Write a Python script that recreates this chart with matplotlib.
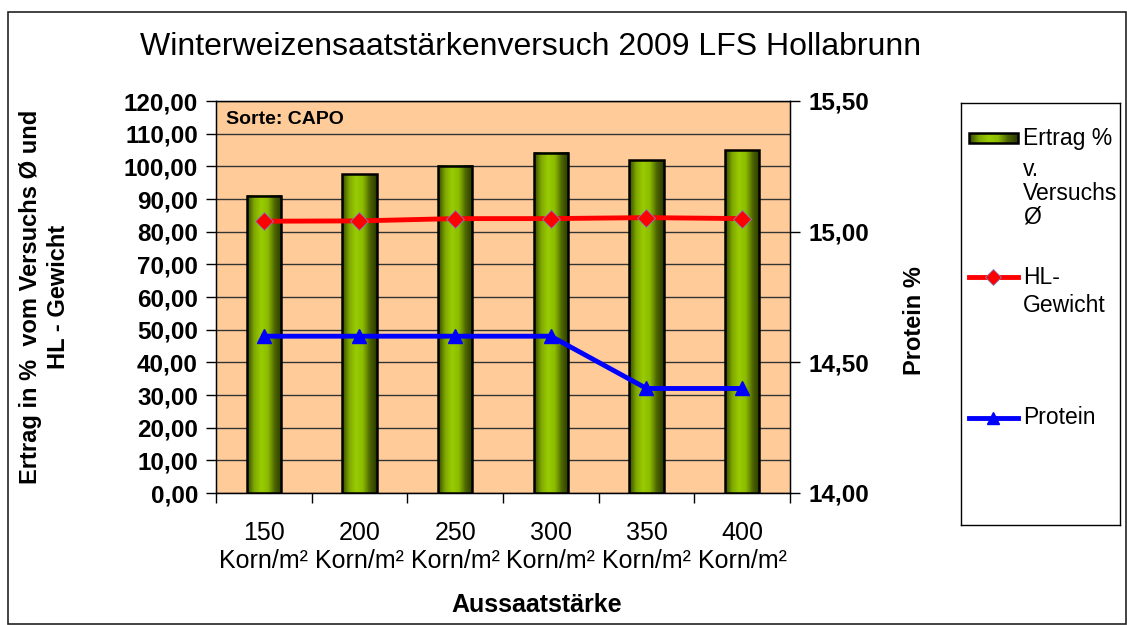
import numpy as np
import matplotlib
matplotlib.use("Agg")
import matplotlib.pyplot as plt
from matplotlib.colors import LinearSegmentedColormap
from matplotlib.patches import Rectangle
from matplotlib.lines import Line2D
from matplotlib.ticker import FuncFormatter, MultipleLocator

plt.rcParams["font.family"] = ["Liberation Sans", "DejaVu Sans"]

categories = ["150\nKorn/m²", "200\nKorn/m²", "250\nKorn/m²", "300\nKorn/m²", "350\nKorn/m²", "400\nKorn/m²"]
ertrag = [91.0, 97.6, 100.2, 104.2, 101.9, 104.9]
hl_gewicht = [83.2, 83.3, 84.0, 84.0, 84.3, 84.0]
protein = [14.6, 14.6, 14.6, 14.6, 14.4, 14.4]

W, H = 1127, 625
fig = plt.figure(figsize=(W / 100, H / 100), dpi=100)
fig.patch.set_facecolor("white")

# outer frame
fig.add_artist(Rectangle((8 / W, 1 - 624 / H), (1126 - 8) / W, (624 - 12) / H,
                         transform=fig.transFigure, fill=False, ec="#222222", lw=1.2))

ax = fig.add_axes([216 / W, 1 - 493 / H, (790 - 216) / W, (493 - 101) / H])
ax.set_facecolor("#FFCC99")
x = np.arange(len(categories))
width = 0.36

# bars with horizontal green gradient
cmap = LinearSegmentedColormap.from_list("olive", ["#344600", "#7fa800", "#99CC00", "#8cbb00", "#4d6600", "#2c3a00"])
grad = np.linspace(0, 1, 64).reshape(1, -1)
bars = ax.bar(x, ertrag, width, facecolor="none", edgecolor="black", lw=1.8, zorder=4)
for b in bars:
    ax.imshow(grad, cmap=cmap, aspect="auto", zorder=3,
              extent=[b.get_x(), b.get_x() + b.get_width(), 0, b.get_height()])

ax.plot(x, hl_gewicht, color="#FF0000", lw=3.5, marker="D", ms=9,
        mfc="#FF0000", mec="#8080c0", mew=0.6, zorder=5)

ax.set_xlim(-0.5, len(categories) - 0.5)
ax.set_ylim(0, 120)
ax.yaxis.set_major_locator(MultipleLocator(10))
ax.yaxis.set_major_formatter(FuncFormatter(lambda v, p: f"{v:.2f}".replace(".", ",")))
ax.grid(axis="y", color="#333333", lw=1.0, zorder=1)
ax.set_axisbelow(True)
ax.set_xticks(x)
ax.set_xticklabels(categories, fontsize=18, linespacing=1.2)
ax.set_xticks(np.arange(-0.5, len(categories), 1), minor=True)
ax.tick_params(axis="x", which="major", length=0, pad=20)
ax.tick_params(axis="x", which="minor", length=7, width=1, direction="out")
ax.tick_params(axis="y", length=7, width=1, direction="out", labelsize=17.5, pad=6)
for lab in ax.get_yticklabels():
    lab.set_fontweight("bold")
for s in ax.spines.values():
    s.set_color("black")
    s.set_linewidth(1.0)

ax.text(0.018, 0.975, "Sorte: CAPO", transform=ax.transAxes, ha="left", va="top",
        fontsize=14, fontweight="bold", zorder=6)

ax.set_ylabel("Ertrag in %  vom Versuchs Ø und\nHL - Gewicht", fontsize=17,
              fontweight="bold", linespacing=1.3)
ax.yaxis.set_label_coords(-0.254, 0.5)

ax2 = ax.twinx()
ax2.plot(x, protein, color="#0000FF", lw=3.5, marker="^", ms=10, zorder=5)
ax2.set_ylim(14.0, 15.5)
ax2.yaxis.set_major_locator(MultipleLocator(0.5))
ax2.yaxis.set_major_formatter(FuncFormatter(lambda v, p: f"{v:.2f}".replace(".", ",")))
ax2.tick_params(axis="y", length=7, width=1, direction="out", labelsize=17.5, pad=6)
for lab in ax2.get_yticklabels():
    lab.set_fontweight("bold")
ax2.set_ylabel("Protein %", fontsize=17, fontweight="bold")
ax2.yaxis.set_label_coords(1.197, 0.441)
for s in ax2.spines.values():
    s.set_color("black")

fig.text(531 / W, 1 - 47 / H, "Winterweizensaatstärkenversuch 2009 LFS Hollabrunn",
         ha="center", va="center", fontsize=23)
fig.text(537 / W, 1 - 605 / H, "Aussaatstärke", ha="center", va="center",
         fontsize=18, fontweight="bold")

# legend box
lax = fig.add_axes([961 / W, 1 - 525 / H, (1120 - 961) / W, (525 - 103) / H])
lax.set_xlim(0, 159)
lax.set_ylim(422, 0)
lax.set_xticks([])
lax.set_yticks([])
for s in lax.spines.values():
    s.set_color("black")
    s.set_linewidth(1.0)
lax.imshow(grad, cmap=cmap, aspect="auto", extent=[8, 57, 40, 30], zorder=2)
lax.add_patch(Rectangle((8, 30), 49, 10, fill=False, ec="black", lw=1.8, zorder=3))
lax.text(62, 35, "Ertrag %", va="center", ha="left", fontsize=16.5)
lax.text(62, 55, "v.\nVersuchs\nØ", va="top", ha="left", fontsize=16.5, linespacing=1.05)
lax.add_line(Line2D([8, 57], [174, 174], color="#FF0000", lw=3.5))
lax.plot([32], [174], marker="D", ms=8, mfc="#FF0000", mec="#8080c0", mew=0.6)
lax.text(62, 174, "HL-", va="center", ha="left", fontsize=16.5)
lax.text(62, 202, "Gewicht", va="center", ha="left", fontsize=16.5)
lax.add_line(Line2D([8, 57], [315, 315], color="#0000FF", lw=3.5))
lax.plot([32], [315], marker="^", ms=9, color="#0000FF")
lax.text(62, 315, "Protein", va="center", ha="left", fontsize=16.5)

fig.savefig("out.png", dpi=100)
